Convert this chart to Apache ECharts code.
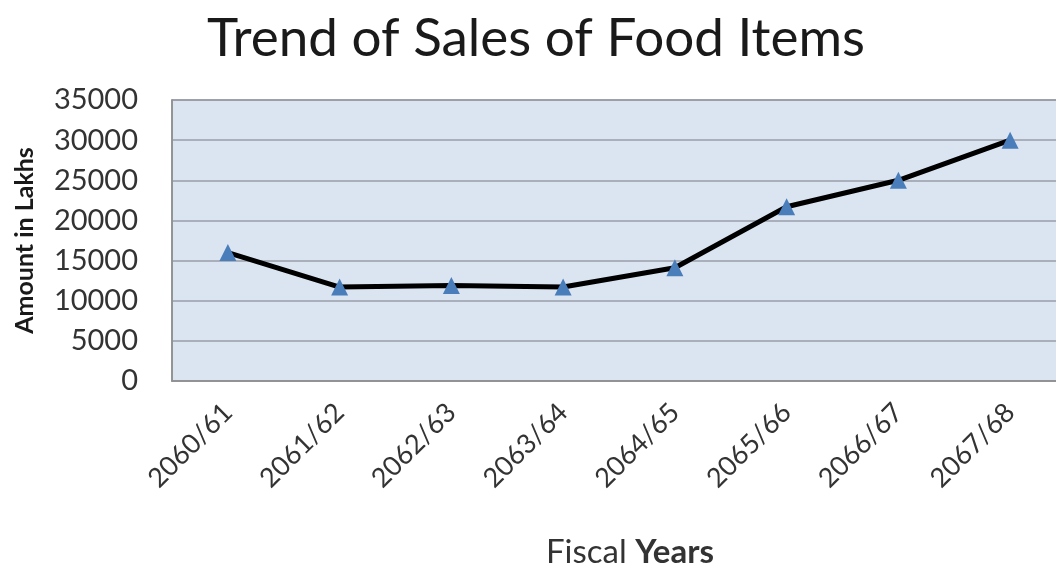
<!DOCTYPE html>
<html>
<head>
<meta charset="utf-8">
<title>Trend of Sales of Food Items</title>
<script src="https://cdn.jsdelivr.net/npm/echarts@6/dist/echarts.min.js"></script>
<style>
  html, body { margin: 0; padding: 0; background: #ffffff; }
  #chart { width: 1056px; height: 569px; }
</style>
</head>
<body>
<div id="chart"></div>
<script>
// Fiscal years (Bikram Sambat) and yearly sales of food items, in lakhs
const fiscalYears = ['2060/61', '2061/62', '2062/63', '2063/64', '2064/65', '2065/66', '2066/67', '2067/68'];
const salesAmount = [16000, 11700, 11900, 11700, 14100, 21700, 25000, 30000];
const yTicks = { min: 0, max: 35000, interval: 5000 };

const FONT = 'Lato, "Open Sans", sans-serif';

const chart = echarts.init(document.getElementById('chart'), null, { renderer: 'canvas' });

chart.setOption({
  backgroundColor: '#ffffff',
  animation: false,
  title: {
    text: 'Trend of Sales of Food Items',
    left: 531,
    textAlign: 'center',
    top: 7,
    textStyle: { fontFamily: FONT, fontSize: 53, fontWeight: 'normal', color: '#1a1a1a' }
  },
  grid: {
    left: 172,
    right: -10,
    top: 100,
    bottom: 188,
    outerBoundsMode: 'none',
    containLabel: false,
    show: true,
    backgroundColor: '#dbe5f1',
    borderColor: '#8e8e8e',
    borderWidth: 1.5
  },
  xAxis: {
    type: 'category',
    data: fiscalYears,
    boundaryGap: true,
    name: '{a|Fiscal }{b|Years}',
    nameLocation: 'middle',
    nameGap: 155,
    nameTextStyle: {
      padding: [0, 0, 0, 22],
      rich: {
        a: { fontFamily: FONT, fontSize: 33, color: '#333333' },
        b: { fontFamily: FONT, fontSize: 33, fontWeight: 'bold', color: '#333333' }
      }
    },
    axisLine: { show: true, lineStyle: { color: '#8e8e8e', width: 1.5 } },
    axisTick: { show: false },
    axisLabel: {
      rotate: 45,
      margin: 27,
      fontFamily: FONT,
      fontSize: 27,
      color: '#333333'
    },
    splitLine: { show: false }
  },
  yAxis: {
    type: 'value',
    min: yTicks.min,
    max: yTicks.max,
    interval: yTicks.interval,
    name: 'Amount in Lakhs',
    nameLocation: 'middle',
    nameGap: 135,
    nameRotate: 90,
    nameTextStyle: { fontFamily: FONT, fontSize: 25, fontWeight: 'bold', color: '#1a1a1a' },
    axisLine: { show: true, lineStyle: { color: '#8e8e8e', width: 1.5 } },
    axisTick: { show: false },
    axisLabel: {
      margin: 34,
      formatter: (v) => String(v),
      fontFamily: FONT,
      fontSize: 29,
      color: '#333333'
    },
    splitLine: { show: true, lineStyle: { color: '#9a9ea8', width: 1.5 } }
  },
  series: [{
    type: 'line',
    data: salesAmount,
    symbol: 'triangle',
    symbolSize: 17,
    lineStyle: { color: '#000000', width: 5 },
    itemStyle: { color: '#4a7ebb', borderWidth: 0 },
    z: 3
  }]
});
</script>
</body>
</html>
